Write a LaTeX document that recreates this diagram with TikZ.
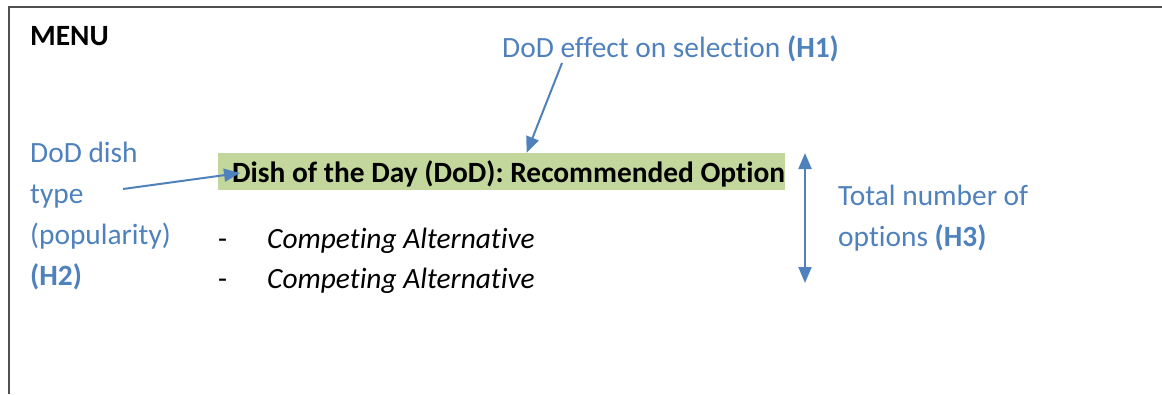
\documentclass[tikz,border=0pt]{standalone}
\usepackage{fontspec}
\setmainfont{Carlito}[Ligatures=NoCommon]
\usetikzlibrary{arrows.meta, calc}

\definecolor{hblue}{HTML}{4F81BD}
\definecolor{dodgreen}{HTML}{C3D69B}
\definecolor{framegray}{HTML}{505050}

\tikzset{
  txt/.style={anchor=base west, inner sep=0, font=\fontsize{29.4}{41}\selectfont},
  hyp/.style={txt, text=hblue, align=left},
  harrow/.style={hblue, line width=2pt, -{Triangle[length=16pt,width=13pt]}},
}

\begin{document}
\begin{tikzpicture}[x=1pt,y=-1pt]
  \useasboundingbox (0,0) rectangle (1162,394);
  % menu frame, open to the right and at the bottom
  \draw[framegray, line width=2pt] (9,394) -- (9,7) -- (1162,7);
  \node[txt, font=\fontsize{29.4}{41}\selectfont\bfseries] (menu) at (30,45) {MENU};

  % the recommended dish, highlighted
  \node[txt, font=\fontsize{29.4}{41}\selectfont\bfseries, fill=dodgreen,
        text height=29pt, text depth=8pt] (dish) at (218,182)
        {\hspace*{14pt}Dish of the Day (DoD): Recommended Option};
  \node[txt] (dash1) at (218,248) {-};
  \node[txt] (dash2) at (218,288) {-};
  \node[txt, font=\fontsize{29.4}{41}\selectfont\itshape] (alt1) at (267,248) {Competing Alternative};
  \node[txt, font=\fontsize{29.4}{41}\selectfont\itshape] (alt2) at (267,288) {Competing Alternative};

  % hypotheses (base of a multi-line node is its last line)
  \node[hyp] (h1) at (502,57) {DoD effect on selection \textbf{(H1)}};
  \node[hyp] (h2) at (30,285) {DoD dish\\type\\(popularity)\\\textbf{(H2)}};
  \node[hyp] (h3) at (838,246) {Total number of\\options \textbf{(H3)}};

  \coordinate (h1from) at (562,63);
  \coordinate (h2from) at (123,189);
  \coordinate (h3top) at (805,153);
  \coordinate (h3bot) at (805,283);
  \draw[harrow] (h1from) -- ([xshift=25pt]dish.north);
  \draw[harrow] (h2from) -- ([xshift=22pt,yshift=-1.5pt]dish.west);
  \draw[harrow, {Triangle[length=16pt,width=13pt]}-{Triangle[length=16pt,width=13pt]}] (h3top) -- (h3bot);
\end{tikzpicture}
\end{document}
